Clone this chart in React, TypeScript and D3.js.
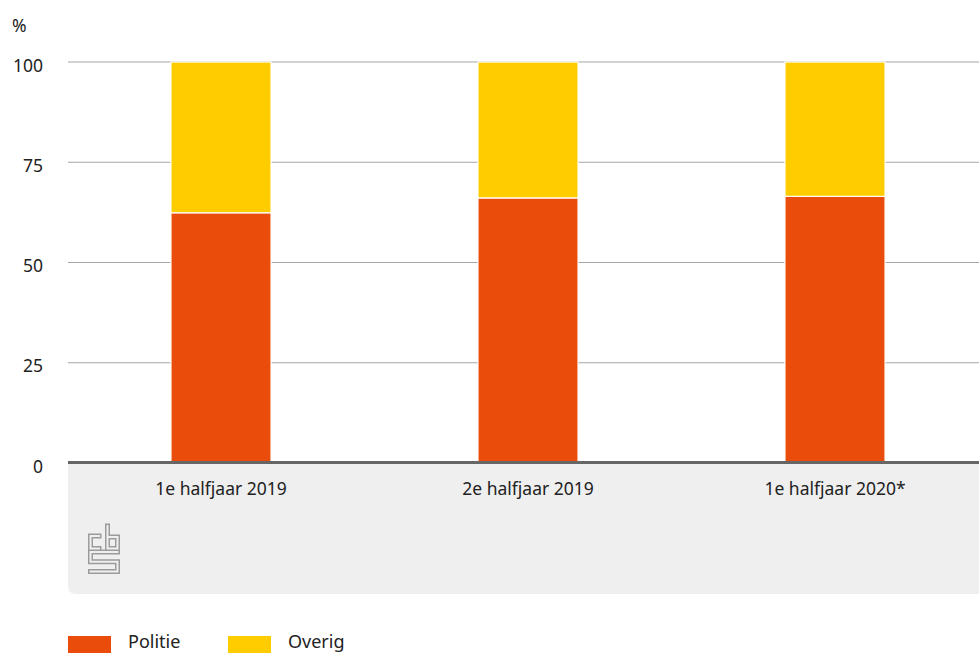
import React from "react";
import * as d3 from "d3";

const categories = ["1e halfjaar 2019", "2e halfjaar 2019", "1e halfjaar 2020*"];
const politie = [62.4, 66.1, 66.5];
const overig = [37.6, 33.9, 33.5];
const seriesNames = ["Politie", "Overig"];
const seriesColors = ["#e94c0b", "#ffcc00"];
const yTicks = [0, 25, 50, 75, 100];

const W = 979;
const H = 653;
const FONT = "'Noto Sans', 'Open Sans', sans-serif";

export default function App() {
  const x = d3.scaleBand<string>().domain(categories).range([67.5, 988.5]).paddingInner(0.674).paddingOuter(0.337);
  const y = d3.scaleLinear().domain([0, 100]).range([463, 62]);

  const table = categories.map((c, i) => ({ cat: c, Politie: politie[i], Overig: overig[i] }));
  const stack = d3.stack<any>().keys(seriesNames)(table);

  const logo = [
    "M 11 11 L 2.5 11 L 2.5 23.5 L 11 23.5",
    "M 19.5 1 L 19.5 23.5 L 29.5 23.5 L 29.5 12 L 19.5 12",
    "M 29.5 27 L 2.5 27 L 2.5 36.8 L 29.5 36.8 L 29.5 46.5 L 2.5 46.5",
  ];

  return (
    <svg width={W} height={H} style={{ position: "absolute", left: 0, top: 0, display: "block" }}>
      <rect x={0} y={0} width={W} height={H} fill="#ffffff" />
      {/* bottom panel */}
      <path d={`M 68 464 L 985 464 L 985 594 L 76 594 Q 68 594 68 586 Z`} fill="#efefef" />
      {/* y axis labels and grid */}
      <text x={12} y={32} fontFamily={FONT} fontSize={17.5} fill="#222">%</text>
      {yTicks.map((t) => (
        <g key={t}>
          {t > 0 && <line x1={68} x2={W} y1={y(t)} y2={y(t)} stroke="#a6a6a6" strokeWidth={1.2} />}
          <text x={43} y={y(t) + 9.5} textAnchor="end" fontFamily={FONT} fontSize={17.5} fill="#222">{t}</text>
        </g>
      ))}
      {/* bars */}
      {stack.map((s, si) => (
        <g key={s.key}>
          {s.map((d, i) => (
            <rect
              key={i}
              x={x(categories[i])!}
              width={x.bandwidth()}
              y={y(d[1])}
              height={y(d[0]) - y(d[1])}
              fill={seriesColors[si]}
              stroke="#ffffff"
              strokeWidth={1.2}
            />
          ))}
        </g>
      ))}
      {/* axis baseline */}
      <line x1={68} x2={W} y1={462.5} y2={462.5} stroke="#666666" strokeWidth={3} />
      {categories.map((c) => (
        <text key={c} x={x(c)! + x.bandwidth() / 2} y={495} textAnchor="middle" fontFamily={FONT} fontSize={17.5} fill="#222">
          {c}
        </text>
      ))}
      {/* logo */}
      <g transform="translate(88,525)" fill="none" strokeLinejoin="miter" strokeLinecap="square">
        {logo.map((d, i) => (
          <path key={"o" + i} d={d} stroke="#9b9b9b" strokeWidth={5} />
        ))}
        {logo.map((d, i) => (
          <path key={"i" + i} d={d} stroke="#efefef" strokeWidth={2} />
        ))}
      </g>
      {/* legend */}
      {seriesNames.map((n, i) => (
        <g key={n} transform={`translate(${68 + i * 160},636)`}>
          <rect x={0} y={0} width={43} height={20} fill={seriesColors[i]} />
          <text x={60} y={12} fontFamily={FONT} fontSize={18} fill="#222">{n}</text>
        </g>
      ))}
    </svg>
  );
}
